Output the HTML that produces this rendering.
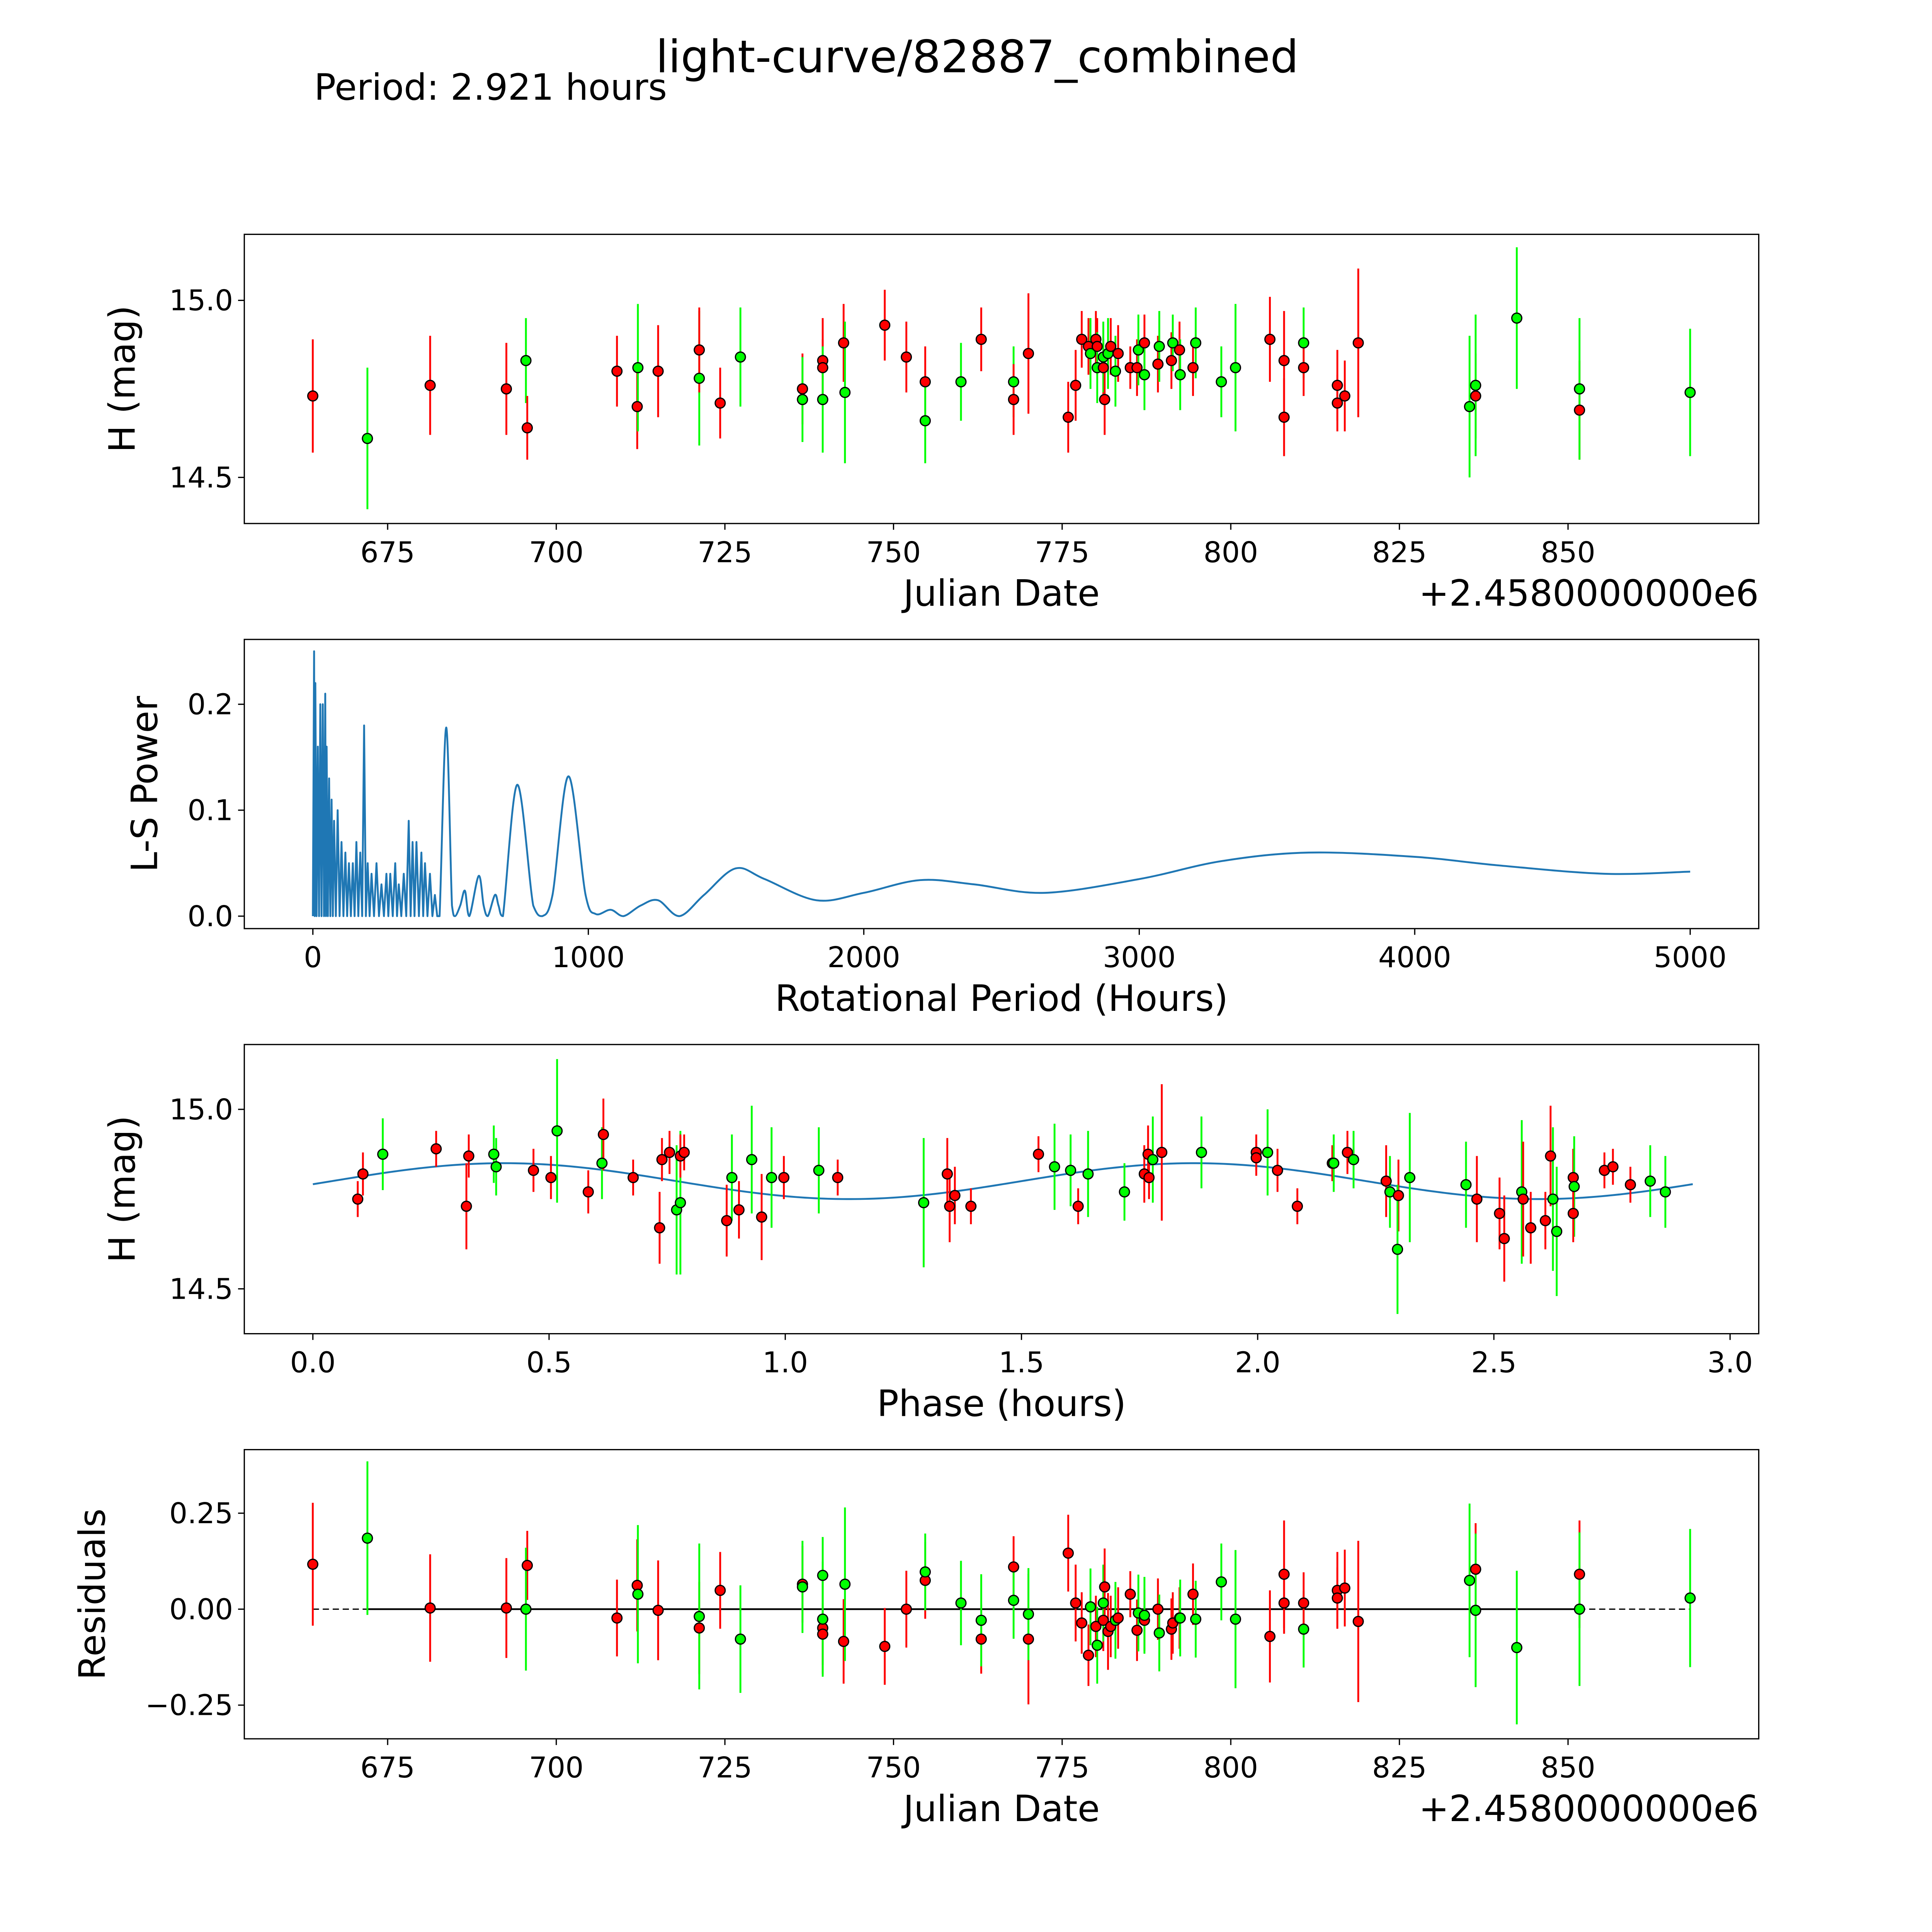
<!DOCTYPE html>
<html><head><meta charset="utf-8"><style>
html,body{margin:0;padding:0;background:#fff;overflow:hidden;width:100%;height:100%}
svg{display:block;width:100vw;height:100vh}
text{font-family:"DejaVu Sans","Liberation Sans",sans-serif;fill:#000}
</style></head><body>
<svg id="fig" xmlns="http://www.w3.org/2000/svg" viewBox="0 0 1550 1550" preserveAspectRatio="none">
<rect width="1550" height="1550" fill="#fff"/>
<text x="784" y="58" font-size="36" text-anchor="middle">light-curve/82887_combined</text>
<text x="252" y="80" font-size="29">Period: 2.921 hours</text>
<g id="g1"></g>
<g id="g2"></g>
<g id="g3"></g>
<g id="g4"></g>
</svg>
<script>
// ---------- Panel 1 data (Julian Date offset, H mag, error, band) ----------
const lcJD = [663.9,672.0,681.3,692.6,695.5,695.7,709.0,712.0,712.1,715.1,721.2,721.2,724.3,727.3,736.5,736.5,739.5,739.5,739.5,742.6,742.8,748.7,751.9,754.7,754.7,760.0,763.0,767.8,767.8,770.0,775.9,777.0,777.9,778.9,779.2,780.0,780.2,780.2,781.1,781.1,781.3,781.8,782.2,782.9,783.3,785.1,786.1,786.3,787.2,787.2,789.2,789.4,791.2,791.4,792.4,792.5,794.4,794.8,798.6,800.7,805.8,807.9,807.9,810.8,810.8,815.8,815.8,816.9,818.9,835.4,836.3,836.3,842.4,851.7,851.7,868.1];
const lcH = [14.73,14.61,14.76,14.75,14.83,14.64,14.80,14.70,14.81,14.80,14.78,14.86,14.71,14.84,14.75,14.72,14.83,14.81,14.72,14.88,14.74,14.93,14.84,14.77,14.66,14.77,14.89,14.77,14.72,14.85,14.67,14.76,14.89,14.87,14.85,14.89,14.87,14.81,14.81,14.84,14.72,14.85,14.87,14.80,14.85,14.81,14.81,14.86,14.88,14.79,14.82,14.87,14.83,14.88,14.86,14.79,14.81,14.88,14.77,14.81,14.89,14.83,14.67,14.88,14.81,14.76,14.71,14.73,14.88,14.70,14.73,14.76,14.95,14.69,14.75,14.74];
const lcErr = [0.16,0.2,0.14,0.13,0.12,0.09,0.1,0.12,0.18,0.13,0.19,0.12,0.1,0.14,0.1,0.12,0.12,0.08,0.15,0.11,0.2,0.1,0.1,0.1,0.12,0.11,0.09,0.1,0.1,0.17,0.1,0.1,0.08,0.08,0.1,0.08,0.08,0.1,0.08,0.1,0.1,0.1,0.08,0.1,0.08,0.06,0.08,0.1,0.08,0.1,0.08,0.1,0.08,0.08,0.08,0.1,0.08,0.1,0.1,0.18,0.12,0.14,0.11,0.1,0.08,0.1,0.08,0.1,0.21,0.2,0.12,0.2,0.2,0.14,0.2,0.18];
const lcBand = ["r","g","r","r","g","r","r","r","g","r","g","r","r","g","r","g","r","r","g","r","g","r","r","r","g","g","r","g","r","r","r","r","r","r","g","r","r","g","r","g","r","g","r","g","r","r","r","g","r","g","r","g","r","g","r","g","r","g","g","g","r","r","r","g","r","r","r","r","r","g","r","g","g","r","g","g"];

// ---------- Panel 2 data: periodogram ----------
const lsSpikeP = [4.5,9,18,27,36,45,50,59,68,77,90,104,118,131,145,158,172,186,199,213,231,249,267,281,299,312,330,348,362,376,394,407,425,443];
const lsSpikePow = [0.25,0.22,0.16,0.2,0.2,0.21,0.16,0.13,0.11,0.09,0.1,0.07,0.06,0.05,0.05,0.07,0.06,0.18,0.05,0.04,0.05,0.03,0.04,0.04,0.05,0.03,0.04,0.09,0.07,0.07,0.06,0.05,0.04,0.02];
const lsSmoothP = [460,484,505,516,535,552,568,602,620,635,661,674,690,742,800,833,870,928,990,1027,1081,1127,1190,1253,1330,1420,1534,1640,1828,2000,2204,2400,2656,3000,3300,3615,4000,4300,4688,5000];
const lsSmoothPow = [0,0.178,0.01,0,0.01,0.024,0,0.038,0.01,0,0.02,0.01,0,0.124,0.01,0,0.02,0.132,0.02,0.002,0.006,0,0.01,0.015,0,0.02,0.045,0.035,0.015,0.022,0.034,0.03,0.022,0.035,0.052,0.06,0.056,0.048,0.04,0.042];

// ---------- Panel 3 data: phased ----------
const phX = [0.095,0.106,0.148,0.261,0.325,0.330,0.383,0.388,0.467,0.504,0.517,0.583,0.612,0.615,0.678,0.734,0.739,0.755,0.770,0.778,0.778,0.786,0.876,0.887,0.902,0.929,0.950,0.971,0.997,1.071,1.111,1.293,1.343,1.348,1.359,1.393,1.536,1.570,1.604,1.620,1.641,1.718,1.760,1.768,1.770,1.778,1.797,1.881,1.997,1.997,2.021,2.042,2.084,2.158,2.161,2.190,2.203,2.272,2.280,2.298,2.296,2.322,2.441,2.464,2.512,2.522,2.559,2.562,2.578,2.609,2.620,2.625,2.633,2.668,2.670,2.668,2.734,2.752,2.789,2.831,2.863];
const phH = [14.75,14.82,14.875,14.89,14.73,14.87,14.875,14.84,14.83,14.81,14.94,14.77,14.85,14.93,14.81,14.67,14.86,14.88,14.72,14.74,14.87,14.88,14.69,14.81,14.72,14.86,14.70,14.81,14.81,14.83,14.81,14.74,14.82,14.73,14.76,14.73,14.875,14.84,14.83,14.73,14.82,14.77,14.82,14.875,14.81,14.86,14.88,14.88,14.88,14.865,14.88,14.83,14.73,14.85,14.85,14.88,14.86,14.80,14.77,14.76,14.61,14.81,14.79,14.75,14.71,14.64,14.77,14.75,14.67,14.69,14.87,14.75,14.66,14.81,14.785,14.71,14.83,14.84,14.79,14.80,14.77];
const phBand = ["r","r","g","r","r","r","g","g","r","r","g","r","g","r","r","r","r","r","g","g","r","r","r","g","r","g","r","g","r","g","r","g","r","r","r","r","r","g","g","r","g","g","r","r","r","g","r","g","r","r","g","r","r","r","g","r","g","r","g","r","g","g","g","r","r","r","g","r","r","r","r","g","g","r","g","r","r","r","r","g","g"];
const phErr = [0.05,0.06,0.1,0.05,0.12,0.06,0.08,0.08,0.06,0.06,0.2,0.06,0.1,0.1,0.05,0.1,0.06,0.06,0.18,0.2,0.06,0.05,0.1,0.12,0.08,0.15,0.12,0.14,0.06,0.12,0.05,0.18,0.1,0.1,0.08,0.05,0.05,0.12,0.1,0.05,0.12,0.08,0.08,0.08,0.06,0.12,0.19,0.1,0.05,0.05,0.12,0.06,0.05,0.05,0.08,0.06,0.08,0.1,0.1,0.1,0.18,0.18,0.12,0.12,0.1,0.12,0.2,0.16,0.1,0.08,0.14,0.2,0.18,0.08,0.14,0.08,0.05,0.05,0.05,0.1,0.1];
const fitMean = 14.80, fitAmp = 0.05, fitPeriod = 1.46, fitShift = 0.04, phaseMax = 2.921;

// ---------- Panel 4 data: residuals ----------
const rsJD = [663.9,672.0,681.3,692.6,695.7,695.5,709.0,712.0,712.1,715.1,721.2,721.2,724.3,727.3,736.5,736.5,739.5,739.5,739.5,739.5,742.6,742.8,748.7,751.9,754.7,754.7,760.0,763.0,763.0,767.8,767.8,770.0,770.0,775.9,777.0,777.9,778.9,779.2,780.0,780.2,781.1,781.1,781.3,781.8,782.2,782.9,783.3,785.1,786.1,786.3,787.2,787.2,789.2,789.4,791.2,791.4,792.4,792.5,794.4,794.8,798.6,800.7,805.8,807.9,807.9,810.8,810.8,815.8,815.8,816.9,818.9,835.4,836.3,836.3,842.4,851.7,851.7,868.1];
const rsVal = [0.117,0.185,0.003,0.003,0.114,0,-0.023,0.062,0.039,-0.003,-0.049,-0.019,0.049,-0.078,0.065,0.058,-0.049,-0.065,-0.026,0.088,-0.084,0.065,-0.097,0,0.075,0.097,0.016,-0.078,-0.029,0.11,0.023,-0.078,-0.013,0.146,0.016,-0.036,-0.12,0.006,-0.045,-0.094,-0.029,0.016,0.058,-0.058,-0.045,-0.029,-0.023,0.039,-0.055,-0.01,-0.029,-0.016,0,-0.062,-0.052,-0.036,-0.023,-0.023,0.039,-0.026,0.071,-0.026,-0.071,0.091,0.016,-0.052,0.016,0.049,0.029,0.055,-0.032,0.075,0.104,-0.003,-0.1,0.091,0,0.029];
const rsErr = [0.16,0.2,0.14,0.13,0.09,0.16,0.1,0.12,0.18,0.13,0.12,0.19,0.1,0.14,0.1,0.12,0.12,0.08,0.15,0.1,0.11,0.2,0.1,0.1,0.1,0.1,0.11,0.09,0.12,0.08,0.1,0.17,0.12,0.1,0.1,0.08,0.08,0.1,0.08,0.1,0.08,0.1,0.1,0.1,0.08,0.1,0.08,0.06,0.08,0.1,0.08,0.1,0.08,0.1,0.08,0.08,0.08,0.1,0.08,0.1,0.1,0.18,0.12,0.14,0.08,0.1,0.08,0.1,0.08,0.1,0.21,0.2,0.12,0.2,0.2,0.14,0.2,0.18];
const rsBand = ["r","g","r","r","r","g","r","r","g","r","r","g","r","g","r","g","r","r","g","g","r","g","r","r","r","g","g","r","g","r","g","r","g","r","r","r","r","g","r","g","r","g","r","r","r","g","r","r","r","g","r","g","r","g","r","r","r","g","r","g","g","g","r","r","r","g","r","r","r","r","r","g","r","g","g","r","g","g"];

const NS = "http://www.w3.org/2000/svg";
const COL = {r:"#ff0000", g:"#00ff00"};
function mk(parent, tag, attrs, txt){
  const e = document.createElementNS(NS, tag);
  for (const k in attrs) e.setAttribute(k, attrs[k]);
  if (txt !== undefined) e.textContent = txt;
  parent.appendChild(e);
  return e;
}
function lin(d0,d1,p0,p1){ return v => p0 + (v-d0)*(p1-p0)/(d1-d0); }

function axes(g, L, T, R, B, xs, xticks, xlabelFn, ys, yticks, ylabelFn, xtitle, ytitle, ytitleX){
  for (const t of xticks){
    const x = xs(t);
    const tk = mk(g,"line",{x1:x,y1:B,x2:x,y2:B+5,stroke:"#000","stroke-width":1});
    
    
    const lb = mk(g,"text",{x:x,y:B+31,"font-size":23,"text-anchor":"middle"}, xlabelFn(t));
    
    
  }
  for (const t of yticks){
    const y = ys(t);
    const tk = mk(g,"line",{x1:L-5,y1:y,x2:L,y2:y,stroke:"#000","stroke-width":1});
    
    
    const lb = mk(g,"text",{x:L-9,y:y+8,"font-size":23,"text-anchor":"end"}, ylabelFn(t));
    
    
  }
  const xt = mk(g,"text",{x:(L+R)/2,y:B+66,"font-size":29,"text-anchor":"middle"}, xtitle);
  
  
  const cy = (T+B)/2;
  const yt = mk(g,"text",{x:ytitleX,y:cy,"font-size":29,"text-anchor":"middle",transform:`rotate(-90 ${ytitleX} ${cy})`}, ytitle);
  
  
}
function frame(g,L,T,R,B){
  const f = mk(g,"rect",{x:L,y:T,width:R-L,height:B-T,fill:"none",stroke:"#000","stroke-width":1});
  
  
}
function errPoints(g, xsArr, ysArr, errArr, bandArr, xs, ys){
  for (let i=0;i<xsArr.length;i++){
    const x = xs(xsArr[i]);
    const eb = mk(g,"line",{x1:x,y1:ys(ysArr[i]-errArr[i]),x2:x,y2:ys(ysArr[i]+errArr[i]),stroke:COL[bandArr[i]],"stroke-width":1.5});
    
    
  }
  for (let i=0;i<xsArr.length;i++){
    const p = mk(g,"circle",{cx:xs(xsArr[i]),cy:ys(ysArr[i]),r:4,fill:COL[bandArr[i]],stroke:"#000","stroke-width":1});
    
    
  }
}

// Panel 1
(function(){
  const g = document.getElementById("g1");
  const L=196,T=188,R=1411,B=420;
  const xs = lin(675,850,311,1258), ys = lin(15.0,14.5,241,383);
  axes(g,L,T,R,B,xs,[675,700,725,750,775,800,825,850],t=>String(t),ys,[14.5,15.0],t=>t.toFixed(1),"Julian Date","H (mag)",108);
  errPoints(g, lcJD, lcH, lcErr, lcBand, xs, ys);
  frame(g,L,T,R,B);
  const o = mk(g,"text",{x:R,y:B+66,"font-size":29,"text-anchor":"end"},"+2.4580000000e6");
  
  
})();

// Panel 2
(function(){
  const g = document.getElementById("g2");
  const L=196,T=513,R=1411,B=745;
  const xs = lin(0,5000,251,1356), ys = lin(0,0.2,735,565);
  axes(g,L,T,R,B,xs,[0,1000,2000,3000,4000,5000],t=>String(t),ys,[0,0.1,0.2],t=>t.toFixed(1),"Rotational Period (Hours)","L-S Power",126);
  let pts = [[0,0]];
  for (let i=0;i<lsSpikeP.length;i++){
    pts.push([lsSpikeP[i], lsSpikePow[i]]);
    const nx = i+1<lsSpikeP.length ? lsSpikeP[i+1] : lsSmoothP[0];
    pts.push([(lsSpikeP[i]+nx)/2, 0]);
  }
  let d = "M"+pts.map(p=>xs(p[0]).toFixed(2)+","+ys(p[1]).toFixed(2)).join(" L");
  const sp = lsSmoothP.map((p,i)=>[xs(p), ys(lsSmoothPow[i])]);
  const all = [[xs(pts[pts.length-1][0]), ys(0)]].concat(sp);
  for (let i=0;i<all.length-1;i++){
    const p0 = all[Math.max(0,i-1)], p1 = all[i], p2 = all[i+1], p3 = all[Math.min(all.length-1,i+2)];
    const c1 = [p1[0]+(p2[0]-p0[0])/6, p1[1]+(p2[1]-p0[1])/6];
    const c2 = [p2[0]-(p3[0]-p1[0])/6, p2[1]-(p3[1]-p1[1])/6];
    d += ` C${c1[0].toFixed(2)},${Math.min(c1[1],735).toFixed(2)} ${c2[0].toFixed(2)},${Math.min(c2[1],735).toFixed(2)} ${p2[0].toFixed(2)},${p2[1].toFixed(2)}`;
  }
  const path = mk(g,"path",{d:d,fill:"none",stroke:"#1f77b4","stroke-width":1.5,"stroke-linejoin":"round"});
  
  
  frame(g,L,T,R,B);
})();

// Panel 3
(function(){
  const g = document.getElementById("g3");
  const L=196,T=838,R=1411,B=1070;
  const xs = lin(0,3.0,251,1388), ys = lin(15.0,14.5,890,1034);
  axes(g,L,T,R,B,xs,[0,0.5,1.0,1.5,2.0,2.5,3.0],t=>t.toFixed(1),ys,[14.5,15.0],t=>t.toFixed(1),"Phase (hours)","H (mag)",108);
  let d = "";
  for (let k=0;k<=300;k++){
    const ph = phaseMax*k/300;
    const h = fitMean + fitAmp*Math.sin(2*Math.PI*(ph-fitShift)/fitPeriod);
    d += (k?" L":"M")+xs(ph).toFixed(2)+","+ys(h).toFixed(2);
  }
  const path = mk(g,"path",{d:d,fill:"none",stroke:"#1f77b4","stroke-width":1.5});
  
  
  errPoints(g, phX, phH, phErr, phBand, xs, ys);
  frame(g,L,T,R,B);
})();

// Panel 4
(function(){
  const g = document.getElementById("g4");
  const L=196,T=1163,R=1411,B=1395;
  const xs = lin(675,850,311,1258), ys = lin(0.25,-0.25,1214,1368);
  axes(g,L,T,R,B,xs,[675,700,725,750,775,800,825,850],t=>String(t),ys,[0.25,0,-0.25],t=>(t<0?"\u2212":"")+Math.abs(t).toFixed(2),"Julian Date","Residuals",84);
  const z1 = mk(g,"line",{x1:xs(663.9),y1:ys(0),x2:xs(868.1),y2:ys(0),stroke:"#000","stroke-width":1,"stroke-dasharray":"5,3"});
  
  
  const z2 = mk(g,"line",{x1:xs(672),y1:ys(0),x2:xs(851.7),y2:ys(0),stroke:"#000","stroke-width":1.4});
  
  
  errPoints(g, rsJD, rsVal, rsErr, rsBand, xs, ys);
  frame(g,L,T,R,B);
  const o = mk(g,"text",{x:R,y:B+66,"font-size":29,"text-anchor":"end"},"+2.4580000000e6");
  
  
})();
</script>
</body></html>
